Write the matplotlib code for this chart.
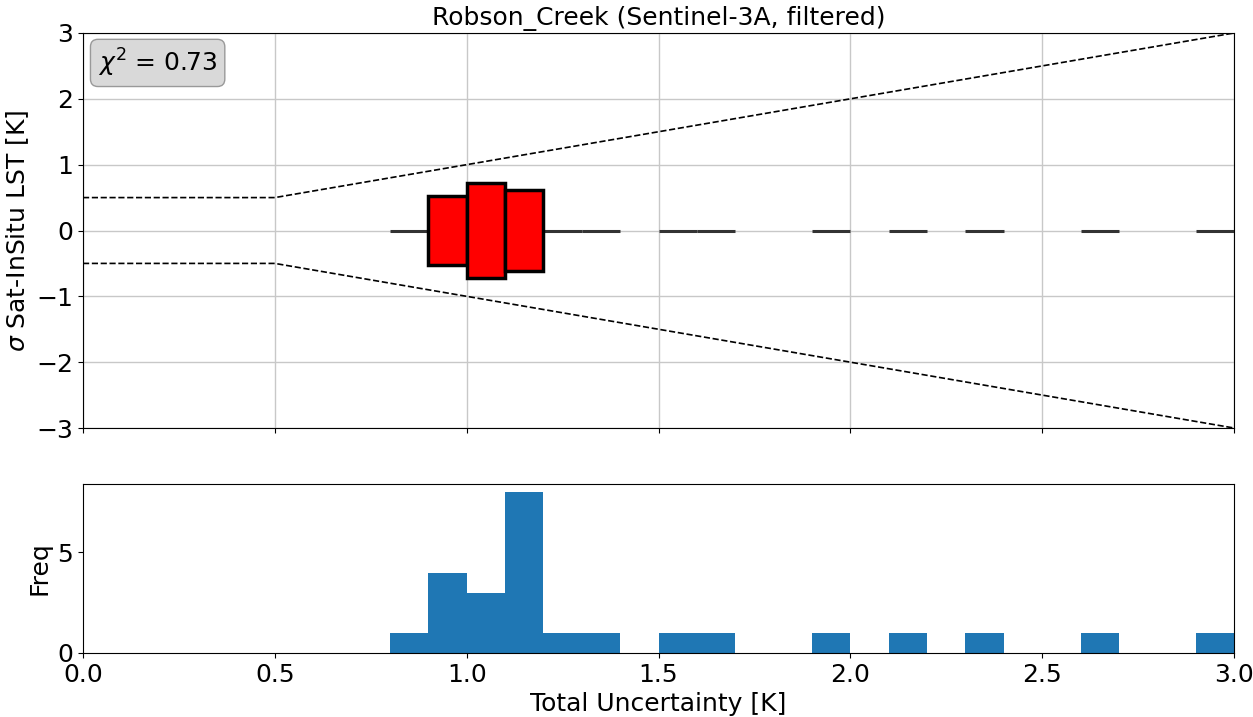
import numpy as np
import matplotlib
matplotlib.use("Agg")
import matplotlib.pyplot as plt
from matplotlib.patches import Rectangle

# ── Data ─────────────────────────────────────────────────────────────────────
bin_left = [0.8, 0.9, 1.0, 1.1, 1.2, 1.3, 1.5, 1.6, 1.9, 2.1, 2.3, 2.6, 2.9]
bin_count = [1, 4, 3, 8, 1, 1, 1, 1, 1, 1, 1, 1, 1]
bin_sigma = [0.0, 0.53, 0.72, 0.61, 0.0, 0.0, 0.0, 0.0, 0.0, 0.0, 0.0, 0.0, 0.0]
bin_width = 0.1
chi2 = 0.73

fs = 18
fig = plt.figure(figsize=(12.53, 7.17), dpi=100)
ax1 = fig.add_axes([83 / 1253, 1 - 428 / 717, 1151 / 1253, 395 / 717])
ax2 = fig.add_axes([83 / 1253, 1 - 653 / 717, 1151 / 1253, 169 / 717])

# ── Top panel ────────────────────────────────────────────────────────────────
xl = np.array([0.0, 0.5, 3.0])
env = np.maximum(xl, 0.5)
ax1.plot(xl, env, "k--", lw=1.2)
ax1.plot(xl, -env, "k--", lw=1.2)

for x0, s in zip(bin_left, bin_sigma):
    if s == 0:
        ax1.plot([x0, x0 + bin_width], [0, 0], color="#333333", lw=2.2,
                 solid_capstyle="butt", zorder=3)
    else:
        ax1.add_patch(Rectangle((x0, -s), bin_width, 2 * s, facecolor="red",
                                edgecolor="black", lw=2.5, zorder=4))

ax1.set_xlim(0, 3)
ax1.set_ylim(-3, 3)
ax1.set_xticks(np.arange(0, 3.01, 0.5))
ax1.tick_params(labelbottom=False, labelsize=fs)
ax1.set_ylabel(r"$\sigma$ Sat-InSitu LST [K]", fontsize=fs)
ax1.set_title("Robson_Creek (Sentinel-3A, filtered)", fontsize=fs)
ax1.grid(True, color="#c8c8c8", lw=1)
ax1.set_axisbelow(True)
ax1.text(0.013, 0.965, r"$\chi^2$ = %.2f" % chi2, transform=ax1.transAxes,
         ha="left", va="top", fontsize=fs,
         bbox=dict(boxstyle="round,pad=0.3", fc="#d9d9d9", ec="#999999"))

# ── Bottom panel ─────────────────────────────────────────────────────────────
ax2.bar(bin_left, bin_count, width=bin_width, align="edge", color="#1f77b4")
ax2.set_xlim(0, 3)
ax2.set_ylim(0, 8.4)
ax2.set_xticks(np.arange(0, 3.01, 0.5))
ax2.set_yticks([0, 5])
ax2.tick_params(labelsize=fs)
ax2.set_xlabel("Total Uncertainty [K]", fontsize=fs)
ax2.set_ylabel("Freq", fontsize=fs)

fig.savefig("out.png", dpi=100)
